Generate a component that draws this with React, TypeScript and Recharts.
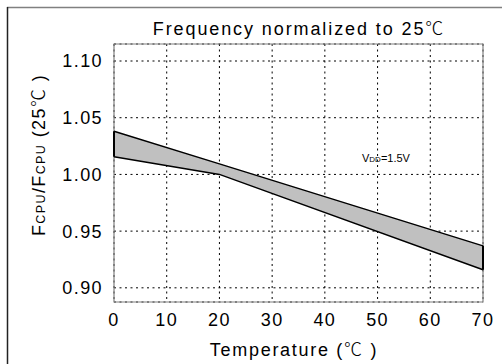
import React from 'react';
import {
  ComposedChart,
  Area,
  XAxis,
  YAxis,
  CartesianGrid,
  ReferenceArea,
  ReferenceLine,
} from 'recharts';

// Temperature points where the band changes slope
const temps = [0, 20, 70];
// Upper and lower bounds of the normalized frequency band
const upperBound = [1.038, 1.0093, 0.937];
const lowerBound = [1.0155, 1.0, 0.916];

const xTicks = [0, 10, 20, 30, 40, 50, 60, 70];
const yTicks = [0.9, 0.95, 1.0, 1.05, 1.1];
const yDomain = [0.8875, 1.115];

const data = temps.map((t, i) => ({ t, band: [lowerBound[i], upperBound[i]] }));

const FONT = '"Liberation Sans", Arial, sans-serif';
const CJK = '"Noto Sans CJK SC", sans-serif';
const tickStyle = { fontSize: 18, fill: '#000', fontFamily: FONT, letterSpacing: 1.4 };

export default function App() {
  return (
    <div style={{ position: 'absolute', left: 0, top: 0, width: 502, height: 364, background: '#fff' }}>
      <ComposedChart
        width={502}
        height={364}
        data={data}
        margin={{ top: 44, right: 19, bottom: 32, left: 54 }}
      >
        <CartesianGrid stroke="#000" strokeDasharray="2 3.5" />
        <XAxis
          type="number"
          dataKey="t"
          domain={[0, 70]}
          ticks={xTicks}
          height={30}
          axisLine={false}
          tickLine={false}
          tickSize={0}
          tickMargin={11}
          tick={tickStyle}
          interval={0}
        />
        <YAxis
          type="number"
          domain={yDomain}
          ticks={yTicks}
          width={60}
          axisLine={false}
          tickLine={false}
          tickSize={0}
          tickMargin={11}
          tick={tickStyle}
          tickFormatter={(v: number) => v.toFixed(2)}
          interval={0}
          allowDataOverflow
        />
        <ReferenceArea
          x1={0}
          x2={70}
          y1={yDomain[0]}
          y2={yDomain[1]}
          fill="none"
          stroke="#808080"
          strokeWidth={1.2}
          ifOverflow="visible"
        />
        <Area
          type="linear"
          dataKey="band"
          fill="#c0c0c0"
          fillOpacity={1}
          stroke="#000"
          strokeWidth={1.5}
          isAnimationActive={false}
          dot={false}
          activeDot={false}
        />
        <ReferenceLine
          segment={[
            { x: temps[0], y: lowerBound[0] },
            { x: temps[0], y: upperBound[0] },
          ]}
          stroke="#000"
          strokeWidth={2}
        />
        <ReferenceLine
          segment={[
            { x: temps[temps.length - 1], y: lowerBound[lowerBound.length - 1] },
            { x: temps[temps.length - 1], y: upperBound[upperBound.length - 1] },
          ]}
          stroke="#000"
          strokeWidth={2}
        />
      </ComposedChart>
      <svg
        width={502}
        height={364}
        style={{ position: 'absolute', left: 0, top: 0, pointerEvents: 'none' }}
        fontFamily={FONT}
      >
        <line x1={7} y1={7.5} x2={502} y2={7.5} stroke="#808080" strokeWidth={1.5} />
        <line x1={7.5} y1={7} x2={7.5} y2={364} stroke="#222" strokeWidth={1.5} />
        <text x={299} y={35} textAnchor="middle" fontSize={18} fill="#000" letterSpacing={1.9}>
          Frequency normalized to 25<tspan fontFamily={CJK} fontWeight={300}>℃</tspan>
        </text>
        <text x={294} y={356} textAnchor="middle" fontSize={18} fill="#000" letterSpacing={1.7}>
          Temperature (<tspan fontFamily={CJK} fontWeight={300}>℃</tspan> )
        </text>
        <text
          transform="translate(45,155) rotate(-90)"
          textAnchor="middle"
          fontSize={18}
          fill="#000"
          letterSpacing={1.4}
        >
          F<tspan fontSize={12.5}>CPU</tspan>/F<tspan fontSize={12.5}>CPU</tspan> (25<tspan fontFamily={CJK} fontWeight={300}>℃</tspan> )
        </text>
        <text x={362} y={162} fontSize={11} fill="#000">
          V<tspan fontSize={8}>DD</tspan>=1.5V
        </text>
      </svg>
    </div>
  );
}
